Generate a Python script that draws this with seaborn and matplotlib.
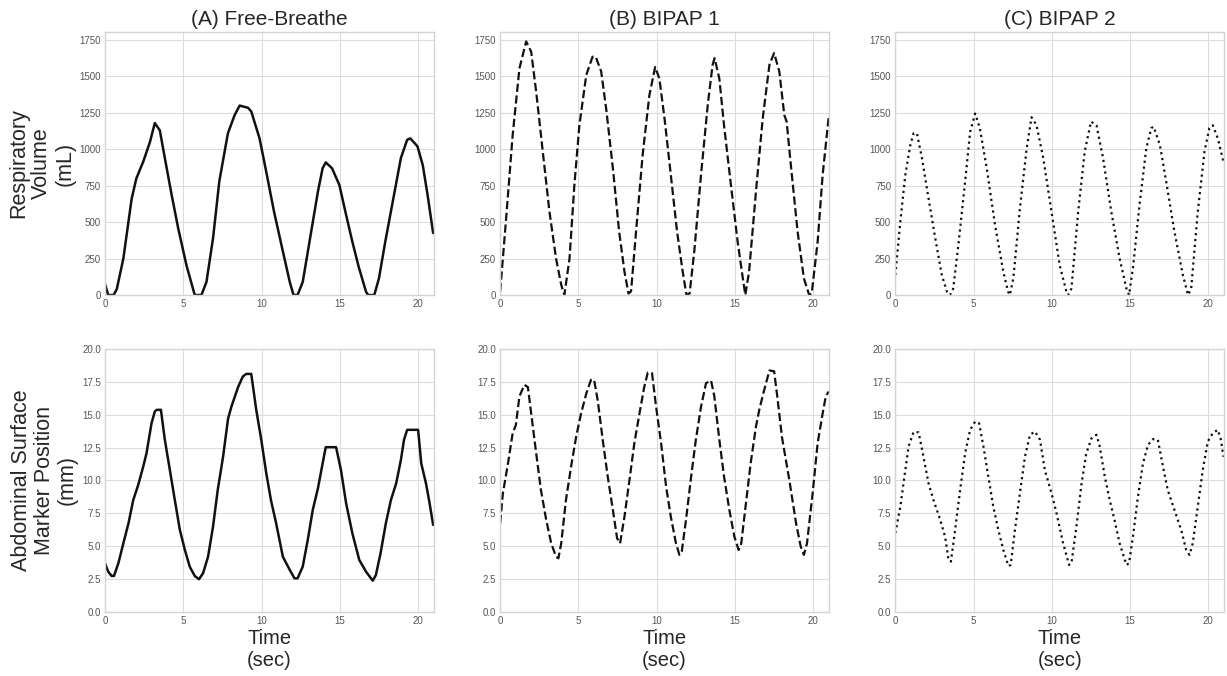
import numpy as np
import pandas as pd
import matplotlib
matplotlib.use("Agg")
import matplotlib.pyplot as plt
import seaborn as sns

# Panel titles and axis labels
col_titles = ["(A) Free-Breathe", "(B) BIPAP 1", "(C) BIPAP 2"]
row_labels = ["Respiratory\nVolume\n(mL)", "Abdominal Surface\nMarker Position\n(mm)"]
line_styles = ["-", "--", ":"]

# (A) Free-Breathe, respiratory volume (mL)
t_vol_a = [0, 0.2, 0.55, 0.75, 1.17, 1.7, 2.0, 2.44, 2.87, 3.18, 3.5, 3.82, 4.25, 4.67, 5.2,
           5.73, 6.16, 6.48, 6.9, 7.3, 7.85, 8.28, 8.6, 9.13, 9.34, 9.87, 10.3, 10.8, 11.36, 11.8,
           12.04, 12.3, 12.63, 13.06, 13.6, 13.9, 14.1, 14.5, 14.97, 15.4, 15.8, 16.2, 16.67, 16.8,
           17.2, 17.5, 17.9, 18.5, 18.9, 19.3, 19.5, 19.96, 20.3, 20.6, 20.96]
vol_a = [75, 0, 0, 40, 250, 660, 800, 915, 1050, 1180, 1130, 940, 690, 460, 205,
         0, 0, 90, 390, 780, 1110, 1235, 1300, 1285, 1260, 1075, 845, 570, 300, 90,
         0, 0, 90, 365, 710, 870, 910, 870, 755, 550, 365, 195, 23, 0,
         0, 115, 365, 710, 940, 1065, 1075, 1020, 890, 690, 425]

# (B) BIPAP 1, respiratory volume (mL)
t_vol_b = [0, 0.38, 0.8, 1.23, 1.66, 1.98, 2.3, 2.72, 3.15, 3.57, 3.9, 4.1, 4.43, 4.74, 5.06,
           5.5, 5.9, 6.1, 6.45, 6.77, 7.2, 7.6, 7.94, 8.2, 8.36, 8.68, 9.1, 9.53, 9.9, 10.17,
           10.5, 10.9, 11.3, 11.66, 11.9, 12.1, 12.4, 12.83, 13.26, 13.57, 13.7, 14.0, 14.3, 14.74,
           15.17, 15.5, 15.66, 15.9, 16.34, 16.77, 17.2, 17.5, 17.83, 18.15, 18.3, 18.57, 19.0,
           19.4, 19.74, 19.9, 20.28, 20.6, 20.98]
vol_b = [25, 525, 1100, 1555, 1740, 1670, 1395, 985, 570, 250, 70, 0, 250, 755, 1165,
         1510, 1635, 1635, 1535, 1280, 870, 435, 160, 10, 25, 435, 960, 1370, 1565, 1485,
         1210, 825, 435, 160, 0, 10, 300, 825, 1305, 1580, 1625, 1485, 1165, 755,
         365, 115, 0, 160, 710, 1210, 1580, 1660, 1535, 1235, 1190, 890, 435,
         115, 0, 10, 365, 825, 1215]

# (C) BIPAP 2, respiratory volume (mL)
t_vol_c = [0, 0.32, 0.64, 0.96, 1.17, 1.38, 1.7, 2.12, 2.55, 2.97, 3.3, 3.5, 3.7, 4.03, 4.46,
           4.78, 5.1, 5.4, 5.84, 6.37, 6.9, 7.2, 7.32, 7.54, 7.96, 8.39, 8.7, 9.02, 9.45, 9.98,
           10.5, 10.93, 11.04, 11.25, 11.68, 12.1, 12.5, 12.85, 13.27, 13.8, 14.33, 14.76, 14.93,
           15.18, 15.6, 16.03, 16.35, 16.5, 16.9, 17.3, 17.83, 18.37, 18.7, 18.9, 19.32, 19.75,
           20.06, 20.28, 20.6, 20.96]
vol_c = [137, 505, 825, 1030, 1110, 1110, 940, 665, 390, 137, 23, 0, 45, 345, 780,
         1120, 1245, 1145, 870, 480, 160, 23, 0, 115, 595, 1005, 1220, 1165, 940, 570,
         205, 23, 0, 45, 570, 985, 1190, 1165, 940, 570, 250, 45, 0,
         185, 620, 1005, 1145, 1155, 1030, 780, 435, 137, 0, 45, 570, 985,
         1145, 1165, 1075, 915]

# (A) Free-Breathe, abdominal marker position (mm)
t_abd_a = [0, 0.2, 0.42, 0.57, 0.85, 1.17, 1.5, 1.8, 2.12, 2.44, 2.65, 2.97, 3.18, 3.3, 3.57,
           3.82, 4.14, 4.46, 4.78, 5.1, 5.41, 5.73, 6.0, 6.26, 6.58, 6.9, 7.2, 7.54, 7.86, 8.07,
           8.5, 8.8, 9.02, 9.34, 9.66, 9.98, 10.3, 10.6, 10.93, 11.36, 11.8, 12.1, 12.3, 12.63,
           12.95, 13.27, 13.6, 13.9, 14.1, 14.76, 15.07, 15.4, 15.8, 16.24, 16.67, 17.1, 17.3,
           17.6, 17.94, 18.26, 18.6, 18.9, 19.1, 19.3, 20.0, 20.2, 20.5, 20.7, 20.96]
abd_a = [3.7, 3.07, 2.74, 2.74, 3.7, 5.22, 6.75, 8.5, 9.66, 11.06, 12.07, 14.35, 15.24, 15.37, 15.37,
         13.1, 10.8, 8.5, 6.24, 4.72, 3.45, 2.74, 2.49, 2.94, 4.2, 6.5, 9.28, 11.8, 14.7, 15.6,
         17.1, 17.9, 18.1, 18.1, 15.37, 13.1, 10.55, 8.5, 6.75, 4.2, 3.2, 2.56, 2.56, 3.45,
         5.48, 7.76, 9.4, 11.3, 12.53, 12.53, 10.8, 8.27, 5.98, 3.96, 3.07, 2.38, 2.8,
         4.46, 6.75, 8.5, 9.79, 11.56, 13.1, 13.85, 13.85, 11.3, 9.79, 8.5, 6.62]

# (B) BIPAP 1, abdominal marker position (mm)
t_abd_b = [0, 0.17, 0.5, 0.8, 1.0, 1.23, 1.55, 1.77, 1.98, 2.3, 2.6, 2.94, 3.26, 3.57, 3.72,
           3.9, 4.2, 4.53, 4.85, 5.17, 5.5, 5.8, 6.0, 6.23, 6.55, 6.87, 7.2, 7.47, 7.66, 7.94,
           8.26, 8.57, 8.9, 9.2, 9.43, 9.7, 9.96, 10.28, 10.6, 10.9, 11.23, 11.45, 11.6, 11.87,
           12.2, 12.5, 12.83, 13.15, 13.47, 13.68, 14.0, 14.3, 14.64, 14.96, 15.23, 15.4, 15.7,
           16.0, 16.34, 16.55, 16.87, 17.2, 17.5, 17.7, 18.0, 18.47, 18.9, 19.2, 19.4, 19.6,
           19.96, 20.28, 20.6, 20.8, 20.98]
abd_b = [6.75, 9.0, 11.3, 13.6, 14.2, 16.4, 17.27, 17.1, 15.1, 12.07, 9.3, 7.0, 5.22, 4.2, 4.08,
         5.22, 8.5, 11.06, 13.3, 15.1, 16.6, 17.65, 17.65, 16.1, 13.1, 10.3, 7.76, 5.6, 5.22, 7.25,
         10.04, 12.83, 15.1, 17.1, 18.2, 18.16, 15.6, 12.83, 9.53, 7.25, 5.22, 4.34, 4.6, 7.0,
         10.3, 13.1, 15.6, 17.4, 17.6, 16.4, 13.1, 10.3, 7.76, 5.73, 4.72, 5.22, 8.27,
         11.3, 14.1, 15.37, 16.9, 18.36, 18.3, 16.4, 13.3, 10.04, 6.75, 4.97, 4.34, 5.22,
         9.03, 12.83, 15.1, 16.4, 16.76]

# (C) BIPAP 2, abdominal marker position (mm)
t_abd_c = [0, 0.32, 0.64, 0.85, 1.17, 1.49, 1.8, 2.12, 2.44, 2.87, 3.18, 3.4, 3.55, 3.82, 4.14,
           4.46, 4.78, 5.1, 5.35, 5.63, 5.94, 6.26, 6.58, 6.9, 7.22, 7.37, 7.64, 7.96, 8.28, 8.6,
           8.92, 9.24, 9.55, 9.98, 10.3, 10.72, 11.1, 11.25, 11.57, 11.9, 12.2, 12.53, 12.85,
           13.06, 13.38, 13.7, 14.0, 14.33, 14.76, 14.93, 15.18, 15.5, 15.82, 16.14, 16.45,
           16.77, 17.1, 17.4, 17.83, 18.26, 18.58, 18.79, 19.0, 19.32, 19.64, 19.96, 20.28,
           20.6, 20.8, 20.96]
abd_c = [6.0, 8.0, 10.8, 12.6, 13.7, 13.65, 11.8, 9.79, 8.5, 7.0, 5.73, 3.96, 3.83, 6.24, 9.28,
         12.07, 13.85, 14.48, 14.35, 12.58, 10.3, 8.0, 6.24, 4.72, 3.5, 3.58, 6.24, 9.03, 11.8, 13.47,
         13.72, 13.1, 10.8, 9.03, 7.5, 5.22, 3.58, 3.7, 6.5, 9.79, 12.07, 13.2, 13.47,
         12.58, 10.3, 8.5, 7.0, 5.22, 3.58, 3.7, 5.73, 8.77, 11.3, 12.7, 13.14,
         13.1, 11.06, 9.28, 7.76, 6.24, 4.72, 4.34, 5.22, 8.0, 10.8, 12.96, 13.6,
         13.85, 13.1, 11.8]

series = [
    [(t_vol_a, vol_a), (t_vol_b, vol_b), (t_vol_c, vol_c)],
    [(t_abd_a, abd_a), (t_abd_b, abd_b), (t_abd_c, abd_c)],
]

# Style: whitegrid with light frame, Arial-like font
sns.set_style("whitegrid", {"grid.color": "#dcdcdc", "axes.edgecolor": "#d4d4d4",
                            "xtick.color": "#555555", "ytick.color": "#555555"})
plt.rcParams["font.family"] = ["Liberation Sans", "DejaVu Sans"]

fig, axes = plt.subplots(2, 3, figsize=(12.27, 6.76), dpi=100)
plt.subplots_adjust(left=0.0856, right=0.9976, bottom=0.0947, top=0.9527,
                    wspace=0.202, hspace=0.205)

for r in range(2):
    for c in range(3):
        ax = axes[r, c]
        t, v = series[r][c]
        df = pd.DataFrame({"t": t, "v": v})
        lw = 1.8 if c == 0 else 1.6
        sns.lineplot(data=df, x="t", y="v", ax=ax, color="#111111", linestyle=line_styles[c],
                     linewidth=lw, sort=False, estimator=None)
        ax.set_xlim(0, 21)
        ax.set_xticks([0, 5, 10, 15, 20])
        if r == 0:
            ax.set_ylim(0, 1805)
            ax.set_yticks(np.arange(0, 1751, 250))
            ax.set_title(col_titles[c], fontsize=15, pad=5)
            ax.set_xlabel("")
        else:
            ax.set_ylim(0, 20)
            ax.set_yticks(np.arange(0, 20.1, 2.5))
            ax.set_yticklabels([f"{y:.1f}" for y in np.arange(0, 20.1, 2.5)])
            ax.set_xlabel("Time\n(sec)", fontsize=14.5, labelpad=2, linespacing=1.2)
        ax.set_ylabel(row_labels[r] if c == 0 else "", fontsize=15.5, labelpad=3,
                      linespacing=1.12)
        ax.tick_params(axis="both", labelsize=7, length=0, pad=3)
        for s in ax.spines.values():
            s.set_linewidth(1.0)

fig.savefig("out.png", dpi=100)
